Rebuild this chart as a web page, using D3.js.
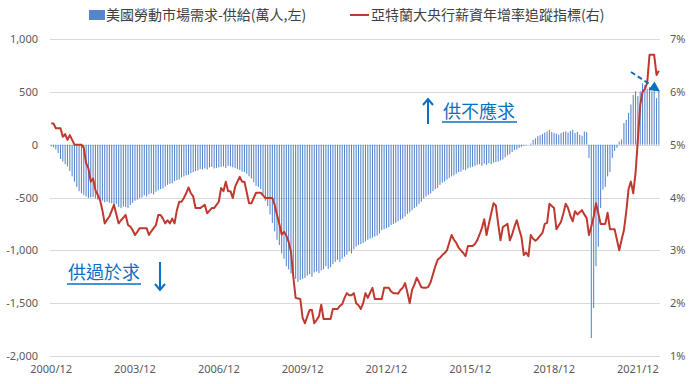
<!DOCTYPE html>
<html>
<head>
<meta charset="utf-8">
<script src="https://cdn.jsdelivr.net/npm/d3@7"></script>
<style>
    body { margin: 0; background: #fff; }
    svg { display: block; font-family: "Noto Sans CJK TC", "Noto Sans", sans-serif; }
</style>
</head>
<body>
<svg id="chart" width="695" height="384"></svg>
<script>
// months run from 2000/12 to 2022/09
var START_YEAR = 2000, START_MONTH = 12, MONTH_COUNT = 262;

var tickLabels = ["2000/12", "2003/12", "2006/12", "2009/12", "2012/12", "2015/12", "2018/12", "2021/12"];
var leftTicks = [-2000, -1500, -1000, -500, 0, 500, 1000];
var rightTicks = [1, 2, 3, 4, 5, 6, 7];

// job openings minus unemployed, 萬人
var laborGap = [
    -15,
    -25, -45, -80, -135, -160, -185, -205, -250, -300, -350, -400, -440,          // 2001
    -460, -475, -490, -505, -500, -495, -510, -520, -515, -530, -545, -540,       // 2002
    -550, -555, -575, -560, -590, -600, -585, -590, -600, -570, -550, -530,       // 2003
    -520, -505, -500, -480, -490, -470, -460, -470, -445, -430, -420, -415,       // 2004
    -395, -380, -370, -365, -345, -335, -330, -310, -300, -290, -285, -270,       // 2005
    -260, -250, -245, -230, -235, -225, -235, -215, -210, -225, -220, -215,       // 2006
    -210, -205, -220, -200, -205, -215, -220, -230, -240, -255, -260, -275,       // 2007
    -300, -320, -355, -390, -400, -420, -470, -530, -580, -660, -740, -820,       // 2008
    -900, -950, -1030, -1080, -1150, -1180, -1220, -1240, -1270, -1300, -1280, -1270, // 2009
    -1260, -1240, -1225, -1250, -1210, -1200, -1215, -1190, -1180, -1150, -1175, -1160, // 2010
    -1130, -1110, -1090, -1110, -1080, -1060, -1040, -1010, -1030, -990, -965, -950, // 2011
    -940, -930, -915, -900, -890, -880, -870, -860, -840, -810, -800, -790,       // 2012
    -780, -760, -750, -740, -725, -710, -700, -680, -655, -640, -620, -600,       // 2013
    -585, -560, -540, -510, -490, -475, -460, -440, -420, -410, -380, -360,       // 2014
    -350, -330, -315, -300, -290, -275, -260, -255, -237, -240, -225, -215,       // 2015
    -210, -200, -190, -185, -200, -180, -190, -175, -185, -170, -165, -160,       // 2016
    -150, -140, -120, -100, -90, -70, -50, -45, -30, -20, -10, -5,                // 2017
    0, 10, 45, 60, 80, 90, 100, 115, 125, 140, 120, 110,                          // 2018
    105, 95, 110, 120, 125, 115, 130, 140, 110, 120, 95, 85,                      // 2019
    125, 120, -125, -1830, -1545, -1150, -965, -600, -425, -400, -300, -260,      // 2020
    -125, -60, -30, 30, 50, 205, 235, 300, 380, 470, 505, 460,                    // 2021
    505, 580, 565, 530, 545, 505, 520, 440, 505                                   // 2022
];

// Atlanta Fed wage growth tracker, %
var wageGrowth = [
    5.40,
    5.40, 5.31, 5.31, 5.31, 5.15, 5.20, 5.09, 5.18, 5.09, 5.00, 5.00, 5.00,       // 2001
    5.00, 4.94, 4.65, 4.55, 4.30, 4.36, 4.14, 4.05, 3.95, 3.76, 3.51, 3.58,       // 2002
    3.64, 3.75, 3.86, 3.68, 3.51, 3.57, 3.62, 3.67, 3.48, 3.45, 3.38, 3.29,       // 2003
    3.35, 3.42, 3.42, 3.42, 3.42, 3.29, 3.36, 3.42, 3.48, 3.67, 3.67, 3.60,       // 2004
    3.51, 3.57, 3.51, 3.60, 3.51, 3.76, 3.92, 3.92, 3.99, 4.08, 4.19, 4.08,       // 2005
    4.02, 3.80, 3.80, 3.80, 3.83, 3.86, 3.70, 3.75, 3.80, 3.80, 3.86, 3.92,       // 2006
    4.18, 4.12, 4.30, 4.12, 4.12, 3.99, 4.20, 4.30, 4.39, 4.30, 4.30, 4.10,       // 2007
    3.89, 3.89, 3.99, 4.09, 4.09, 4.09, 4.04, 3.99, 3.99, 3.99, 3.99, 3.86,       // 2008
    3.67, 3.50, 3.30, 3.35, 3.28, 3.16, 2.97, 2.50, 2.10, 2.09, 2.08, 1.72,       // 2009
    1.62, 1.75, 1.87, 1.87, 1.62, 1.68, 1.75, 1.97, 1.70, 1.70, 1.70, 1.70,       // 2010
    1.89, 1.89, 1.89, 1.95, 1.98, 2.10, 2.19, 2.15, 2.15, 2.19, 2.00, 1.96,       // 2011
    1.89, 2.00, 2.19, 2.10, 2.20, 2.29, 2.08, 2.08, 2.08, 2.08, 2.29, 2.29,       // 2012
    2.29, 2.22, 2.19, 2.19, 2.18, 2.25, 2.29, 2.38, 2.20, 2.00, 2.25, 2.35,       // 2013
    2.48, 2.40, 2.30, 2.29, 2.29, 2.31, 2.40, 2.55, 2.70, 2.82, 2.86, 2.91,       // 2014
    2.95, 3.00, 3.15, 3.29, 3.20, 3.14, 3.05, 3.00, 2.95, 2.89, 3.08, 3.08,       // 2015
    3.08, 3.12, 3.19, 3.30, 3.42, 3.59, 3.29, 3.50, 3.70, 3.89, 3.85, 3.50,       // 2016
    3.19, 3.44, 3.47, 3.50, 3.19, 3.30, 3.45, 3.57, 3.40, 3.25, 2.91, 2.96,       // 2017
    2.89, 3.29, 3.22, 3.18, 3.22, 3.28, 3.33, 3.50, 3.52, 3.88, 3.84, 3.80,       // 2018
    3.40, 3.47, 3.54, 3.70, 3.88, 3.80, 3.65, 3.55, 3.74, 3.68, 3.72, 3.76,       // 2019
    3.68, 3.61, 3.29, 3.45, 3.63, 3.89, 3.70, 3.50, 3.50, 3.50, 3.71, 3.40,       // 2020
    3.40, 3.40, 3.20, 3.00, 3.20, 3.38, 3.73, 4.16, 4.30, 4.08, 4.46, 5.10,       // 2021
    5.75, 6.00, 6.05, 6.17, 6.70, 6.70, 6.70, 6.32, 6.40                          // 2022
];

(function() {
    var months = [];
    for (var i = 0; i < MONTH_COUNT; i++) {
        var m = START_MONTH - 1 + i;
        months.push((START_YEAR + Math.floor(m / 12)) + "/" + ((m % 12) + 1));
    }

    var BLUE = "#5485CD";
    var RED = "#C0392F";
    var NOTE = "#0A6FC2";
    var GRID = "#D9D9D9";
    var TEXT = "#595959";

    var svg = d3.select("#chart");
    var plotLeft = 50, plotRight = 660, plotTop = 39, plotBottom = 356;

    var x = d3.scaleBand().domain(months).range([plotLeft, plotRight])
        .paddingInner(0.55).paddingOuter(0.275);
    var yL = d3.scaleLinear().domain([-2000, 1000]).range([plotBottom, plotTop]);
    var yR = d3.scaleLinear().domain([1, 7]).range([plotBottom, plotTop]);

    function cx(d, i) { return x(months[i]) + x.bandwidth() / 2; }

    // gridlines
    svg.append("g").selectAll("line").data(leftTicks).join("line")
        .attr("x1", plotLeft).attr("x2", plotRight)
        .attr("y1", function(d) { return Math.round(yL(d)) + 0.5; })
        .attr("y2", function(d) { return Math.round(yL(d)) + 0.5; })
        .attr("stroke", GRID).attr("stroke-width", 1.2);

    // bars
    svg.append("g").selectAll("rect").data(laborGap).join("rect")
        .attr("x", function(d, i) { return x(months[i]); })
        .attr("width", x.bandwidth())
        .attr("y", function(d) { return yL(Math.max(0, d)); })
        .attr("height", function(d) { return Math.abs(yL(d) - yL(0)); })
        .attr("fill", BLUE);

    // wage line
    svg.append("path").datum(wageGrowth)
        .attr("fill", "none").attr("stroke", RED).attr("stroke-width", 2)
        .attr("stroke-linejoin", "round")
        .attr("d", d3.line().x(cx).y(function(d) { return yR(d); }));

    // axes
    var fmt = d3.format(",");
    var axL = svg.append("g").attr("transform", "translate(" + (plotLeft - 12) + ",0)")
        .call(d3.axisLeft(yL).tickValues(leftTicks).tickSize(0)
            .tickFormat(function(d) { return fmt(d).replace("\u2212", "-"); }));
    var axR = svg.append("g").attr("transform", "translate(" + (plotRight + 10) + ",0)")
        .call(d3.axisRight(yR).tickValues(rightTicks).tickSize(0)
            .tickFormat(function(d) { return d + "%"; }));
    var axB = svg.append("g").attr("transform", "translate(0," + (plotBottom + 5) + ")")
        .call(d3.axisBottom(x).tickValues(tickLabels).tickSize(0));
    [axL, axR, axB].forEach(function(ax) {
        ax.select(".domain").remove();
        ax.selectAll("text").attr("fill", TEXT).style("font-size", "11px")
            .style("font-family", "'Noto Sans', sans-serif");
    });
    axL.selectAll("text").attr("x", 0);
    axR.selectAll("text").attr("x", 0);
    axB.selectAll("text").attr("y", 4).attr("dy", "0.71em");

    // legend
    var legend = svg.append("g").style("font-size", "14px").attr("fill", "#404040");
    legend.append("rect").attr("x", 89).attr("y", 10).attr("width", 16).attr("height", 10).attr("fill", BLUE);
    legend.append("text").attr("x", 106).attr("y", 20).text("美國勞動市場需求-供給(萬人,左)");
    legend.append("line").attr("x1", 350).attr("x2", 369).attr("y1", 15).attr("y2", 15)
        .attr("stroke", RED).attr("stroke-width", 2);
    legend.append("text").attr("x", 371).attr("y", 20).text("亞特蘭大央行薪資年增率追蹤指標(右)");

    // annotations
    var notes = svg.append("g").attr("fill", NOTE).attr("stroke", NOTE);
    notes.append("text").attr("x", 443).attr("y", 118).attr("stroke", "none")
        .style("font-size", "18px").text("供不應求");
    notes.append("line").attr("x1", 442).attr("x2", 517).attr("y1", 122).attr("y2", 122).attr("stroke-width", 1.5);
    notes.append("text").attr("x", 68).attr("y", 279).attr("stroke", "none")
        .style("font-size", "18px").text("供過於求");
    notes.append("line").attr("x1", 67).attr("x2", 141).attr("y1", 284).attr("y2", 284).attr("stroke-width", 1.5);

    // up arrow
    notes.append("path").attr("fill", "none").attr("stroke-width", 2)
        .attr("d", "M428,124V99M423,105L428,99L433,105");
    // down arrow
    notes.append("path").attr("fill", "none").attr("stroke-width", 2)
        .attr("d", "M160,262V290M155,284L160,290L165,284");
    // dashed arrow near the peak, head points along the dash
    notes.append("line").attr("x1", 631).attr("y1", 72).attr("x2", 651).attr("y2", 85)
        .attr("stroke-width", 2).attr("stroke-dasharray", "5,3");
    notes.append("path").attr("stroke", "none")
        .attr("d", "M660,91.5L648.5,90L654.5,81.5Z");
})();
</script>
</body>
</html>
